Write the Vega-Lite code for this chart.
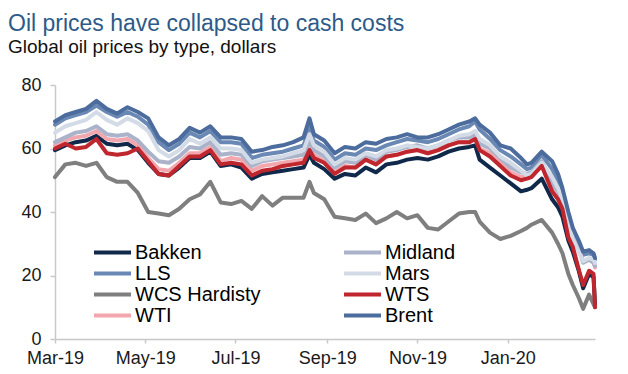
{
  "$schema": "https://vega.github.io/schema/vega-lite/v6.json",
  "width": 540,
  "height": 254,
  "autosize": {"type": "none"},
  "padding": {"left": 55, "top": 85, "right": 33, "bottom": 35},
  "background": "white",
  "config": {"view": {"stroke": null}, "font": "Liberation Sans"},
  "title": {
    "text": "Oil prices have collapsed to cash costs",
    "subtitle": "Global oil prices by type, dollars",
    "anchor": "start",
    "frame": "group",
    "dx": -47,
    "offset": 19,
    "font": "Liberation Sans",
    "fontSize": 23,
    "fontWeight": "normal",
    "color": "#2d5b89",
    "subtitleFont": "Liberation Sans",
    "subtitleFontSize": 19,
    "subtitleColor": "#111111",
    "subtitlePadding": 2
  },
  "data": {
    "values": [
      {"s":"Bakken","d":"2019-03-28","v":59.5},{"s":"Bakken","d":"2019-04-04","v":61},{"s":"Bakken","d":"2019-04-11","v":62},{"s":"Bakken","d":"2019-04-18","v":62.5},{"s":"Bakken","d":"2019-04-25","v":64},{"s":"Bakken","d":"2019-05-02","v":61.5},{"s":"Bakken","d":"2019-05-09","v":61},{"s":"Bakken","d":"2019-05-16","v":61.5},{"s":"Bakken","d":"2019-05-23","v":59.5},{"s":"Bakken","d":"2019-05-30","v":55.5},
      {"s":"Bakken","d":"2019-06-06","v":52},{"s":"Bakken","d":"2019-06-13","v":51.5},{"s":"Bakken","d":"2019-06-20","v":54},{"s":"Bakken","d":"2019-06-27","v":57},{"s":"Bakken","d":"2019-07-04","v":57},{"s":"Bakken","d":"2019-07-11","v":59},{"s":"Bakken","d":"2019-07-18","v":54.5},{"s":"Bakken","d":"2019-07-25","v":55},{"s":"Bakken","d":"2019-08-01","v":54},{"s":"Bakken","d":"2019-08-08","v":50.5},
      {"s":"Bakken","d":"2019-08-15","v":52},{"s":"Bakken","d":"2019-08-22","v":52.5},{"s":"Bakken","d":"2019-08-29","v":53},{"s":"Bakken","d":"2019-09-05","v":53.5},{"s":"Bakken","d":"2019-09-12","v":54},{"s":"Bakken","d":"2019-09-16","v":58},{"s":"Bakken","d":"2019-09-19","v":55.5},{"s":"Bakken","d":"2019-09-26","v":53.5},{"s":"Bakken","d":"2019-10-03","v":50.5},{"s":"Bakken","d":"2019-10-10","v":52},
      {"s":"Bakken","d":"2019-10-17","v":51.5},{"s":"Bakken","d":"2019-10-24","v":54},{"s":"Bakken","d":"2019-10-31","v":52.5},{"s":"Bakken","d":"2019-11-07","v":55},{"s":"Bakken","d":"2019-11-14","v":55.5},{"s":"Bakken","d":"2019-11-21","v":56.5},{"s":"Bakken","d":"2019-11-28","v":57},{"s":"Bakken","d":"2019-12-05","v":56.5},{"s":"Bakken","d":"2019-12-12","v":57.5},{"s":"Bakken","d":"2019-12-19","v":59},
      {"s":"Bakken","d":"2019-12-26","v":60},{"s":"Bakken","d":"2020-01-02","v":60.5},{"s":"Bakken","d":"2020-01-06","v":61},{"s":"Bakken","d":"2020-01-09","v":56.5},{"s":"Bakken","d":"2020-01-16","v":54},{"s":"Bakken","d":"2020-01-23","v":51.5},{"s":"Bakken","d":"2020-01-30","v":49},{"s":"Bakken","d":"2020-02-06","v":46.5},{"s":"Bakken","d":"2020-02-10","v":47},{"s":"Bakken","d":"2020-02-13","v":47.5},
      {"s":"Bakken","d":"2020-02-20","v":50.5},{"s":"Bakken","d":"2020-02-27","v":44},{"s":"Bakken","d":"2020-03-02","v":41.5},{"s":"Bakken","d":"2020-03-05","v":38.5},{"s":"Bakken","d":"2020-03-09","v":31},{"s":"Bakken","d":"2020-03-12","v":27.5},{"s":"Bakken","d":"2020-03-16","v":21.5},{"s":"Bakken","d":"2020-03-19","v":16},{"s":"Bakken","d":"2020-03-23","v":20.5},{"s":"Bakken","d":"2020-03-26","v":19.5},{"s":"Bakken","d":"2020-03-27","v":11},

      {"s":"LLS","d":"2019-03-28","v":67.5},{"s":"LLS","d":"2019-04-04","v":69.5},{"s":"LLS","d":"2019-04-11","v":70.5},{"s":"LLS","d":"2019-04-18","v":71.5},{"s":"LLS","d":"2019-04-25","v":73.5},{"s":"LLS","d":"2019-05-02","v":71.5},{"s":"LLS","d":"2019-05-09","v":70},{"s":"LLS","d":"2019-05-16","v":71.5},{"s":"LLS","d":"2019-05-23","v":70},{"s":"LLS","d":"2019-05-30","v":67.5},
      {"s":"LLS","d":"2019-06-06","v":62},{"s":"LLS","d":"2019-06-13","v":59.5},{"s":"LLS","d":"2019-06-20","v":61.5},{"s":"LLS","d":"2019-06-27","v":65},{"s":"LLS","d":"2019-07-04","v":63.5},{"s":"LLS","d":"2019-07-11","v":65.5},{"s":"LLS","d":"2019-07-18","v":62},{"s":"LLS","d":"2019-07-25","v":62},{"s":"LLS","d":"2019-08-01","v":61.5},{"s":"LLS","d":"2019-08-08","v":57},
      {"s":"LLS","d":"2019-08-15","v":58},{"s":"LLS","d":"2019-08-22","v":58.5},{"s":"LLS","d":"2019-08-29","v":59},{"s":"LLS","d":"2019-09-05","v":60},{"s":"LLS","d":"2019-09-12","v":61},{"s":"LLS","d":"2019-09-16","v":66.5},{"s":"LLS","d":"2019-09-19","v":62.5},{"s":"LLS","d":"2019-09-26","v":60.5},{"s":"LLS","d":"2019-10-03","v":56.5},{"s":"LLS","d":"2019-10-10","v":58.5},
      {"s":"LLS","d":"2019-10-17","v":58},{"s":"LLS","d":"2019-10-24","v":60},{"s":"LLS","d":"2019-10-31","v":59.5},{"s":"LLS","d":"2019-11-07","v":61},{"s":"LLS","d":"2019-11-14","v":62},{"s":"LLS","d":"2019-11-21","v":63},{"s":"LLS","d":"2019-11-28","v":62.5},{"s":"LLS","d":"2019-12-05","v":62},{"s":"LLS","d":"2019-12-12","v":63},{"s":"LLS","d":"2019-12-19","v":64.5},
      {"s":"LLS","d":"2019-12-26","v":66},{"s":"LLS","d":"2020-01-02","v":67},{"s":"LLS","d":"2020-01-06","v":68.5},{"s":"LLS","d":"2020-01-09","v":66},{"s":"LLS","d":"2020-01-16","v":63},{"s":"LLS","d":"2020-01-23","v":59.5},{"s":"LLS","d":"2020-01-30","v":57.5},{"s":"LLS","d":"2020-02-06","v":55},{"s":"LLS","d":"2020-02-10","v":53.5},{"s":"LLS","d":"2020-02-13","v":54},
      {"s":"LLS","d":"2020-02-20","v":58},{"s":"LLS","d":"2020-02-27","v":53.5},{"s":"LLS","d":"2020-03-02","v":50},{"s":"LLS","d":"2020-03-05","v":46},{"s":"LLS","d":"2020-03-09","v":38.5},{"s":"LLS","d":"2020-03-12","v":33.5},{"s":"LLS","d":"2020-03-16","v":29.5},{"s":"LLS","d":"2020-03-19","v":26.5},{"s":"LLS","d":"2020-03-23","v":27},{"s":"LLS","d":"2020-03-26","v":26.5},{"s":"LLS","d":"2020-03-27","v":25},

      {"s":"WCS Hardisty","d":"2019-03-28","v":51},{"s":"WCS Hardisty","d":"2019-04-04","v":55},{"s":"WCS Hardisty","d":"2019-04-11","v":55.5},{"s":"WCS Hardisty","d":"2019-04-18","v":54.5},{"s":"WCS Hardisty","d":"2019-04-25","v":55.5},{"s":"WCS Hardisty","d":"2019-05-02","v":51},{"s":"WCS Hardisty","d":"2019-05-09","v":49.5},{"s":"WCS Hardisty","d":"2019-05-16","v":49.5},{"s":"WCS Hardisty","d":"2019-05-23","v":46},{"s":"WCS Hardisty","d":"2019-05-30","v":40},
      {"s":"WCS Hardisty","d":"2019-06-06","v":39.5},{"s":"WCS Hardisty","d":"2019-06-13","v":39},{"s":"WCS Hardisty","d":"2019-06-20","v":41},{"s":"WCS Hardisty","d":"2019-06-27","v":44},{"s":"WCS Hardisty","d":"2019-07-04","v":45.5},{"s":"WCS Hardisty","d":"2019-07-11","v":49.5},{"s":"WCS Hardisty","d":"2019-07-18","v":43},{"s":"WCS Hardisty","d":"2019-07-25","v":42.5},{"s":"WCS Hardisty","d":"2019-08-01","v":43.5},{"s":"WCS Hardisty","d":"2019-08-08","v":41},
      {"s":"WCS Hardisty","d":"2019-08-15","v":45},{"s":"WCS Hardisty","d":"2019-08-22","v":42},{"s":"WCS Hardisty","d":"2019-08-29","v":44.5},{"s":"WCS Hardisty","d":"2019-09-05","v":44.5},{"s":"WCS Hardisty","d":"2019-09-12","v":44.5},{"s":"WCS Hardisty","d":"2019-09-16","v":49.5},{"s":"WCS Hardisty","d":"2019-09-19","v":46},{"s":"WCS Hardisty","d":"2019-09-26","v":44},{"s":"WCS Hardisty","d":"2019-10-03","v":38.5},{"s":"WCS Hardisty","d":"2019-10-10","v":38},
      {"s":"WCS Hardisty","d":"2019-10-17","v":37.5},{"s":"WCS Hardisty","d":"2019-10-24","v":39.5},{"s":"WCS Hardisty","d":"2019-10-31","v":36.5},{"s":"WCS Hardisty","d":"2019-11-07","v":38},{"s":"WCS Hardisty","d":"2019-11-14","v":40},{"s":"WCS Hardisty","d":"2019-11-21","v":38},{"s":"WCS Hardisty","d":"2019-11-28","v":39},{"s":"WCS Hardisty","d":"2019-12-05","v":35},{"s":"WCS Hardisty","d":"2019-12-12","v":34.5},{"s":"WCS Hardisty","d":"2019-12-19","v":37},
      {"s":"WCS Hardisty","d":"2019-12-26","v":39.5},{"s":"WCS Hardisty","d":"2020-01-02","v":40},{"s":"WCS Hardisty","d":"2020-01-06","v":40},{"s":"WCS Hardisty","d":"2020-01-09","v":37},{"s":"WCS Hardisty","d":"2020-01-16","v":33.5},{"s":"WCS Hardisty","d":"2020-01-23","v":31.5},{"s":"WCS Hardisty","d":"2020-01-30","v":32.5},{"s":"WCS Hardisty","d":"2020-02-06","v":34},{"s":"WCS Hardisty","d":"2020-02-10","v":35},{"s":"WCS Hardisty","d":"2020-02-13","v":36},
      {"s":"WCS Hardisty","d":"2020-02-20","v":37.5},{"s":"WCS Hardisty","d":"2020-02-27","v":33.5},{"s":"WCS Hardisty","d":"2020-03-02","v":30},{"s":"WCS Hardisty","d":"2020-03-05","v":27},{"s":"WCS Hardisty","d":"2020-03-09","v":20.5},{"s":"WCS Hardisty","d":"2020-03-12","v":17},{"s":"WCS Hardisty","d":"2020-03-16","v":13},{"s":"WCS Hardisty","d":"2020-03-19","v":9.5},{"s":"WCS Hardisty","d":"2020-03-23","v":14},{"s":"WCS Hardisty","d":"2020-03-26","v":11},{"s":"WCS Hardisty","d":"2020-03-27","v":10},

      {"s":"WTI","d":"2019-03-28","v":61},{"s":"WTI","d":"2019-04-04","v":62.5},{"s":"WTI","d":"2019-04-11","v":63.5},{"s":"WTI","d":"2019-04-18","v":64},{"s":"WTI","d":"2019-04-25","v":65.5},{"s":"WTI","d":"2019-05-02","v":63},{"s":"WTI","d":"2019-05-09","v":62.5},{"s":"WTI","d":"2019-05-16","v":63},{"s":"WTI","d":"2019-05-23","v":61},{"s":"WTI","d":"2019-05-30","v":57},
      {"s":"WTI","d":"2019-06-06","v":53.5},{"s":"WTI","d":"2019-06-13","v":53},{"s":"WTI","d":"2019-06-20","v":55.5},{"s":"WTI","d":"2019-06-27","v":58.5},{"s":"WTI","d":"2019-07-04","v":58.5},{"s":"WTI","d":"2019-07-11","v":60.5},{"s":"WTI","d":"2019-07-18","v":56},{"s":"WTI","d":"2019-07-25","v":57},{"s":"WTI","d":"2019-08-01","v":56.5},{"s":"WTI","d":"2019-08-08","v":53},
      {"s":"WTI","d":"2019-08-15","v":54.5},{"s":"WTI","d":"2019-08-22","v":55},{"s":"WTI","d":"2019-08-29","v":55.5},{"s":"WTI","d":"2019-09-05","v":56},{"s":"WTI","d":"2019-09-12","v":56.5},{"s":"WTI","d":"2019-09-16","v":60.5},{"s":"WTI","d":"2019-09-19","v":58},{"s":"WTI","d":"2019-09-26","v":56},{"s":"WTI","d":"2019-10-03","v":52.5},{"s":"WTI","d":"2019-10-10","v":54.5},
      {"s":"WTI","d":"2019-10-17","v":54},{"s":"WTI","d":"2019-10-24","v":56.5},{"s":"WTI","d":"2019-10-31","v":55},{"s":"WTI","d":"2019-11-07","v":57.5},{"s":"WTI","d":"2019-11-14","v":58},{"s":"WTI","d":"2019-11-21","v":59},{"s":"WTI","d":"2019-11-28","v":59.5},{"s":"WTI","d":"2019-12-05","v":58.5},{"s":"WTI","d":"2019-12-12","v":59.5},{"s":"WTI","d":"2019-12-19","v":61},
      {"s":"WTI","d":"2019-12-26","v":62},{"s":"WTI","d":"2020-01-02","v":62},{"s":"WTI","d":"2020-01-06","v":63.3},{"s":"WTI","d":"2020-01-09","v":60},{"s":"WTI","d":"2020-01-16","v":58.5},{"s":"WTI","d":"2020-01-23","v":55.5},{"s":"WTI","d":"2020-01-30","v":52.5},{"s":"WTI","d":"2020-02-06","v":51},{"s":"WTI","d":"2020-02-10","v":51},{"s":"WTI","d":"2020-02-13","v":51.5},
      {"s":"WTI","d":"2020-02-20","v":55},{"s":"WTI","d":"2020-02-27","v":48},{"s":"WTI","d":"2020-03-02","v":45.5},{"s":"WTI","d":"2020-03-05","v":42.5},{"s":"WTI","d":"2020-03-09","v":37},{"s":"WTI","d":"2020-03-12","v":33},{"s":"WTI","d":"2020-03-16","v":28},{"s":"WTI","d":"2020-03-19","v":24.5},{"s":"WTI","d":"2020-03-23","v":25},{"s":"WTI","d":"2020-03-26","v":24.5},{"s":"WTI","d":"2020-03-27","v":22.5},

      {"s":"Midland","d":"2019-03-28","v":62},{"s":"Midland","d":"2019-04-04","v":63.5},{"s":"Midland","d":"2019-04-11","v":65},{"s":"Midland","d":"2019-04-18","v":65.5},{"s":"Midland","d":"2019-04-25","v":67},{"s":"Midland","d":"2019-05-02","v":64.5},{"s":"Midland","d":"2019-05-09","v":64},{"s":"Midland","d":"2019-05-16","v":64.5},{"s":"Midland","d":"2019-05-23","v":62.5},{"s":"Midland","d":"2019-05-30","v":59},
      {"s":"Midland","d":"2019-06-06","v":56},{"s":"Midland","d":"2019-06-13","v":55.5},{"s":"Midland","d":"2019-06-20","v":57.5},{"s":"Midland","d":"2019-06-27","v":60.5},{"s":"Midland","d":"2019-07-04","v":60},{"s":"Midland","d":"2019-07-11","v":62},{"s":"Midland","d":"2019-07-18","v":58},{"s":"Midland","d":"2019-07-25","v":58.5},{"s":"Midland","d":"2019-08-01","v":58},{"s":"Midland","d":"2019-08-08","v":54.5},
      {"s":"Midland","d":"2019-08-15","v":56},{"s":"Midland","d":"2019-08-22","v":56.5},{"s":"Midland","d":"2019-08-29","v":57},{"s":"Midland","d":"2019-09-05","v":57.5},{"s":"Midland","d":"2019-09-12","v":58},{"s":"Midland","d":"2019-09-16","v":62.5},{"s":"Midland","d":"2019-09-19","v":59.5},{"s":"Midland","d":"2019-09-26","v":57.5},{"s":"Midland","d":"2019-10-03","v":54},{"s":"Midland","d":"2019-10-10","v":56},
      {"s":"Midland","d":"2019-10-17","v":55.5},{"s":"Midland","d":"2019-10-24","v":58},{"s":"Midland","d":"2019-10-31","v":56.5},{"s":"Midland","d":"2019-11-07","v":59},{"s":"Midland","d":"2019-11-14","v":59.5},{"s":"Midland","d":"2019-11-21","v":60.5},{"s":"Midland","d":"2019-11-28","v":61},{"s":"Midland","d":"2019-12-05","v":60},{"s":"Midland","d":"2019-12-12","v":61},{"s":"Midland","d":"2019-12-19","v":62.5},
      {"s":"Midland","d":"2019-12-26","v":63.5},{"s":"Midland","d":"2020-01-02","v":63.5},{"s":"Midland","d":"2020-01-06","v":64.5},{"s":"Midland","d":"2020-01-09","v":61.5},{"s":"Midland","d":"2020-01-16","v":60},{"s":"Midland","d":"2020-01-23","v":57},{"s":"Midland","d":"2020-01-30","v":54},{"s":"Midland","d":"2020-02-06","v":52.5},{"s":"Midland","d":"2020-02-10","v":52},{"s":"Midland","d":"2020-02-13","v":52.5},
      {"s":"Midland","d":"2020-02-20","v":56},{"s":"Midland","d":"2020-02-27","v":49},{"s":"Midland","d":"2020-03-02","v":46.5},{"s":"Midland","d":"2020-03-05","v":43.5},{"s":"Midland","d":"2020-03-09","v":37},{"s":"Midland","d":"2020-03-12","v":33},{"s":"Midland","d":"2020-03-16","v":28.5},{"s":"Midland","d":"2020-03-19","v":24},{"s":"Midland","d":"2020-03-23","v":25},{"s":"Midland","d":"2020-03-26","v":24},{"s":"Midland","d":"2020-03-27","v":23},

      {"s":"Mars","d":"2019-03-28","v":65},{"s":"Mars","d":"2019-04-04","v":67},{"s":"Mars","d":"2019-04-11","v":68},{"s":"Mars","d":"2019-04-18","v":69},{"s":"Mars","d":"2019-04-25","v":71.5},{"s":"Mars","d":"2019-05-02","v":69},{"s":"Mars","d":"2019-05-09","v":67.5},{"s":"Mars","d":"2019-05-16","v":69.5},{"s":"Mars","d":"2019-05-23","v":68},{"s":"Mars","d":"2019-05-30","v":65.5},
      {"s":"Mars","d":"2019-06-06","v":59.5},{"s":"Mars","d":"2019-06-13","v":57.5},{"s":"Mars","d":"2019-06-20","v":59.5},{"s":"Mars","d":"2019-06-27","v":63},{"s":"Mars","d":"2019-07-04","v":61.5},{"s":"Mars","d":"2019-07-11","v":63.5},{"s":"Mars","d":"2019-07-18","v":60},{"s":"Mars","d":"2019-07-25","v":60},{"s":"Mars","d":"2019-08-01","v":59.5},{"s":"Mars","d":"2019-08-08","v":55.5},
      {"s":"Mars","d":"2019-08-15","v":56.5},{"s":"Mars","d":"2019-08-22","v":57},{"s":"Mars","d":"2019-08-29","v":57.5},{"s":"Mars","d":"2019-09-05","v":58.5},{"s":"Mars","d":"2019-09-12","v":59.5},{"s":"Mars","d":"2019-09-16","v":64.5},{"s":"Mars","d":"2019-09-19","v":61},{"s":"Mars","d":"2019-09-26","v":59},{"s":"Mars","d":"2019-10-03","v":55},{"s":"Mars","d":"2019-10-10","v":57},
      {"s":"Mars","d":"2019-10-17","v":56.5},{"s":"Mars","d":"2019-10-24","v":58.5},{"s":"Mars","d":"2019-10-31","v":57.5},{"s":"Mars","d":"2019-11-07","v":59.5},{"s":"Mars","d":"2019-11-14","v":60},{"s":"Mars","d":"2019-11-21","v":61},{"s":"Mars","d":"2019-11-28","v":60.5},{"s":"Mars","d":"2019-12-05","v":60},{"s":"Mars","d":"2019-12-12","v":61},{"s":"Mars","d":"2019-12-19","v":62.5},
      {"s":"Mars","d":"2019-12-26","v":64},{"s":"Mars","d":"2020-01-02","v":64.5},{"s":"Mars","d":"2020-01-06","v":65.5},{"s":"Mars","d":"2020-01-09","v":63},{"s":"Mars","d":"2020-01-16","v":61},{"s":"Mars","d":"2020-01-23","v":57.5},{"s":"Mars","d":"2020-01-30","v":55.5},{"s":"Mars","d":"2020-02-06","v":53},{"s":"Mars","d":"2020-02-10","v":51.5},{"s":"Mars","d":"2020-02-13","v":52},
      {"s":"Mars","d":"2020-02-20","v":55.5},{"s":"Mars","d":"2020-02-27","v":51},{"s":"Mars","d":"2020-03-02","v":47.5},{"s":"Mars","d":"2020-03-05","v":44},{"s":"Mars","d":"2020-03-09","v":36},{"s":"Mars","d":"2020-03-12","v":31.5},{"s":"Mars","d":"2020-03-16","v":27.5},{"s":"Mars","d":"2020-03-19","v":24.5},{"s":"Mars","d":"2020-03-23","v":25.5},{"s":"Mars","d":"2020-03-26","v":25},{"s":"Mars","d":"2020-03-27","v":24},

      {"s":"WTS","d":"2019-03-28","v":60},{"s":"WTS","d":"2019-04-04","v":61.5},{"s":"WTS","d":"2019-04-11","v":60},{"s":"WTS","d":"2019-04-18","v":60.5},{"s":"WTS","d":"2019-04-25","v":63},{"s":"WTS","d":"2019-05-02","v":58.5},{"s":"WTS","d":"2019-05-09","v":58},{"s":"WTS","d":"2019-05-16","v":58.5},{"s":"WTS","d":"2019-05-23","v":60},{"s":"WTS","d":"2019-05-30","v":56},
      {"s":"WTS","d":"2019-06-06","v":52},{"s":"WTS","d":"2019-06-13","v":51.5},{"s":"WTS","d":"2019-06-20","v":54.5},{"s":"WTS","d":"2019-06-27","v":57.5},{"s":"WTS","d":"2019-07-04","v":57.5},{"s":"WTS","d":"2019-07-11","v":59.5},{"s":"WTS","d":"2019-07-18","v":55},{"s":"WTS","d":"2019-07-25","v":55.5},{"s":"WTS","d":"2019-08-01","v":55},{"s":"WTS","d":"2019-08-08","v":51.5},
      {"s":"WTS","d":"2019-08-15","v":53},{"s":"WTS","d":"2019-08-22","v":53.5},{"s":"WTS","d":"2019-08-29","v":54.5},{"s":"WTS","d":"2019-09-05","v":55},{"s":"WTS","d":"2019-09-12","v":55.5},{"s":"WTS","d":"2019-09-16","v":59.5},{"s":"WTS","d":"2019-09-19","v":57},{"s":"WTS","d":"2019-09-26","v":55.5},{"s":"WTS","d":"2019-10-03","v":52},{"s":"WTS","d":"2019-10-10","v":54},
      {"s":"WTS","d":"2019-10-17","v":54},{"s":"WTS","d":"2019-10-24","v":56.5},{"s":"WTS","d":"2019-10-31","v":55},{"s":"WTS","d":"2019-11-07","v":57.5},{"s":"WTS","d":"2019-11-14","v":58},{"s":"WTS","d":"2019-11-21","v":59},{"s":"WTS","d":"2019-11-28","v":59.5},{"s":"WTS","d":"2019-12-05","v":58.5},{"s":"WTS","d":"2019-12-12","v":59.5},{"s":"WTS","d":"2019-12-19","v":61},
      {"s":"WTS","d":"2019-12-26","v":62},{"s":"WTS","d":"2020-01-02","v":62},{"s":"WTS","d":"2020-01-06","v":63},{"s":"WTS","d":"2020-01-09","v":59.5},{"s":"WTS","d":"2020-01-16","v":57.5},{"s":"WTS","d":"2020-01-23","v":54.5},{"s":"WTS","d":"2020-01-30","v":51.5},{"s":"WTS","d":"2020-02-06","v":50},{"s":"WTS","d":"2020-02-10","v":50.5},{"s":"WTS","d":"2020-02-13","v":51},
      {"s":"WTS","d":"2020-02-20","v":54.5},{"s":"WTS","d":"2020-02-27","v":46.5},{"s":"WTS","d":"2020-03-02","v":44},{"s":"WTS","d":"2020-03-05","v":41},{"s":"WTS","d":"2020-03-09","v":32},{"s":"WTS","d":"2020-03-12","v":29},{"s":"WTS","d":"2020-03-16","v":22},{"s":"WTS","d":"2020-03-19","v":17},{"s":"WTS","d":"2020-03-23","v":21.5},{"s":"WTS","d":"2020-03-26","v":20.5},{"s":"WTS","d":"2020-03-27","v":10},

      {"s":"Brent","d":"2019-03-28","v":68.5},{"s":"Brent","d":"2019-04-04","v":70.5},{"s":"Brent","d":"2019-04-11","v":71.5},{"s":"Brent","d":"2019-04-18","v":72.5},{"s":"Brent","d":"2019-04-25","v":75},{"s":"Brent","d":"2019-05-02","v":72.5},{"s":"Brent","d":"2019-05-09","v":71},{"s":"Brent","d":"2019-05-16","v":73},{"s":"Brent","d":"2019-05-23","v":71.5},{"s":"Brent","d":"2019-05-30","v":69.5},
      {"s":"Brent","d":"2019-06-06","v":63.5},{"s":"Brent","d":"2019-06-13","v":61},{"s":"Brent","d":"2019-06-20","v":63},{"s":"Brent","d":"2019-06-27","v":66.5},{"s":"Brent","d":"2019-07-04","v":65},{"s":"Brent","d":"2019-07-11","v":67},{"s":"Brent","d":"2019-07-18","v":63.5},{"s":"Brent","d":"2019-07-25","v":63.5},{"s":"Brent","d":"2019-08-01","v":63},{"s":"Brent","d":"2019-08-08","v":59},
      {"s":"Brent","d":"2019-08-15","v":59.5},{"s":"Brent","d":"2019-08-22","v":60.5},{"s":"Brent","d":"2019-08-29","v":61},{"s":"Brent","d":"2019-09-05","v":62},{"s":"Brent","d":"2019-09-12","v":63.5},{"s":"Brent","d":"2019-09-16","v":69.5},{"s":"Brent","d":"2019-09-19","v":64.5},{"s":"Brent","d":"2019-09-26","v":62.5},{"s":"Brent","d":"2019-10-03","v":58.5},{"s":"Brent","d":"2019-10-10","v":60.5},
      {"s":"Brent","d":"2019-10-17","v":60},{"s":"Brent","d":"2019-10-24","v":62},{"s":"Brent","d":"2019-10-31","v":61.5},{"s":"Brent","d":"2019-11-07","v":63},{"s":"Brent","d":"2019-11-14","v":63.5},{"s":"Brent","d":"2019-11-21","v":64.5},{"s":"Brent","d":"2019-11-28","v":63.5},{"s":"Brent","d":"2019-12-05","v":63.5},{"s":"Brent","d":"2019-12-12","v":64.5},{"s":"Brent","d":"2019-12-19","v":66},
      {"s":"Brent","d":"2019-12-26","v":67.5},{"s":"Brent","d":"2020-01-02","v":68.5},{"s":"Brent","d":"2020-01-06","v":69.5},{"s":"Brent","d":"2020-01-09","v":67.5},{"s":"Brent","d":"2020-01-16","v":65},{"s":"Brent","d":"2020-01-23","v":61},{"s":"Brent","d":"2020-01-30","v":60},{"s":"Brent","d":"2020-02-06","v":57},{"s":"Brent","d":"2020-02-10","v":55},{"s":"Brent","d":"2020-02-13","v":55.5},
      {"s":"Brent","d":"2020-02-20","v":59},{"s":"Brent","d":"2020-02-27","v":56},{"s":"Brent","d":"2020-03-02","v":52},{"s":"Brent","d":"2020-03-05","v":47.5},{"s":"Brent","d":"2020-03-09","v":40},{"s":"Brent","d":"2020-03-12","v":35},{"s":"Brent","d":"2020-03-16","v":31},{"s":"Brent","d":"2020-03-19","v":27.5},{"s":"Brent","d":"2020-03-23","v":28},{"s":"Brent","d":"2020-03-26","v":27},{"s":"Brent","d":"2020-03-27","v":25.5}
    ]
  },
  "mark": {"type": "line", "strokeWidth": 4, "strokeJoin": "round", "strokeCap": "round"},
  "encoding": {
    "x": {
      "field": "d",
      "type": "temporal",
      "scale": {
        "type": "utc",
        "nice": false,
        "domain": [
          {"year": 2019, "month": 3, "date": 28, "utc": true},
          {"year": 2020, "month": 3, "date": 27, "utc": true}
        ]
      },
      "axis": {
        "title": null,
        "grid": false,
        "values": [
          {"year": 2019, "month": 3, "date": 28, "utc": true},
          {"year": 2019, "month": 5, "date": 28, "utc": true},
          {"year": 2019, "month": 7, "date": 28, "utc": true},
          {"year": 2019, "month": 9, "date": 28, "utc": true},
          {"year": 2019, "month": 11, "date": 28, "utc": true},
          {"year": 2020, "month": 1, "date": 28, "utc": true}
        ],
        "labelExpr": "utcFormat(datum.value, '%b-%y')",
        "labelFont": "Liberation Sans",
        "labelFontSize": 18,
        "labelColor": "#1a1a1a",
        "labelPadding": 6,
        "labelFlush": false,
        "labelOverlap": false,
        "domainColor": "#c8c8c8",
        "domainWidth": 1.5,
        "tickColor": "#c8c8c8",
        "tickWidth": 1.5,
        "tickSize": 4
      }
    },
    "y": {
      "field": "v",
      "type": "quantitative",
      "scale": {"domain": [0, 80], "nice": false},
      "axis": {
        "title": null,
        "grid": false,
        "values": [0, 20, 40, 60, 80],
        "labelFont": "Liberation Sans",
        "labelFontSize": 18,
        "labelColor": "#1a1a1a",
        "labelPadding": 9,
        "domainColor": "#c8c8c8",
        "domainWidth": 1.5,
        "tickColor": "#c8c8c8",
        "tickWidth": 1.5,
        "tickSize": 5
      }
    },
    "color": {
      "field": "s",
      "type": "nominal",
      "scale": {
        "domain": ["Bakken", "LLS", "WCS Hardisty", "WTI", "Midland", "Mars", "WTS", "Brent"],
        "range": ["#10294a", "#6a88b4", "#7f7f7f", "#f2a7ae", "#aab3c9", "#d3dbe7", "#c0262d", "#4d6c9e"]
      },
      "legend": {
        "orient": "none",
        "legendX": 37,
        "legendY": 157,
        "columns": 2,
        "title": null,
        "symbolType": "stroke",
        "symbolSize": 1369,
        "symbolStrokeWidth": 4,
        "symbolOpacity": 1,
        "clipHeight": 21,
        "labelFont": "Liberation Sans",
        "labelFontSize": 20,
        "labelColor": "#000000",
        "labelOffset": 2,
        "columnPadding": 81,
        "rowPadding": 0
      }
    }
  }
}
